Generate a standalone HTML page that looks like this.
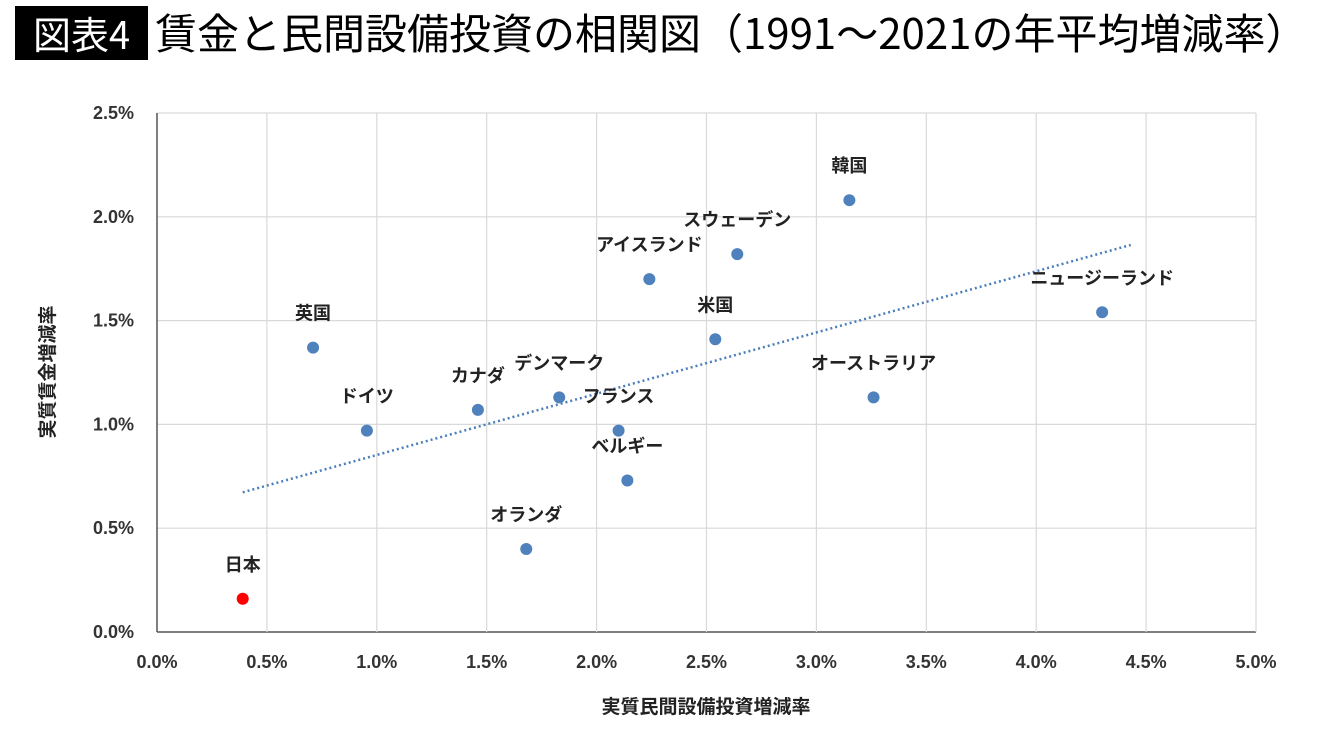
<!DOCTYPE html>
<html><head><meta charset="utf-8"><style>
html,body{margin:0;padding:0;background:#fff;}
body{width:1340px;height:740px;position:relative;overflow:hidden;font-family:"Liberation Sans","Noto Sans CJK JP",sans-serif;}
#badge{position:absolute;left:15px;top:6px;width:133px;height:54px;background:#000;color:#fff;font-size:38px;font-weight:400;line-height:54px;text-align:center;font-family:"Noto Sans CJK JP",sans-serif;}
#title{position:absolute;left:155px;top:3px;font-size:42px;font-weight:400;line-height:58px;color:#000;font-family:"Noto Sans CJK JP",sans-serif;white-space:nowrap;}
svg{position:absolute;left:0;top:0;}
</style></head><body>
<div id="badge">図表4</div>
<div id="title">賃金と民間設備投資の相関図（1991～2021の年平均増減率）</div>
<svg id="chart" width="1340" height="740"></svg>
<script>
const countries=["日本","英国","ドイツ","カナダ","デンマーク","オランダ","フランス","ベルギー","アイスランド","米国","スウェーデン","韓国","オーストラリア","ニュージーランド"];
const investRate=[0.39,0.71,0.955,1.46,1.83,1.68,2.10,2.14,2.24,2.54,2.64,3.15,3.26,4.30];
const wageRate=[0.16,1.37,0.97,1.07,1.13,0.40,0.97,0.73,1.70,1.41,1.82,2.08,1.13,1.54];
const xTicks=[0,0.5,1,1.5,2,2.5,3,3.5,4,4.5,5];
const yTicks=[0,0.5,1,1.5,2,2.5];
const trendRange=[0.39,4.43];

const svg=document.getElementById('chart');
const NS='http://www.w3.org/2000/svg';
const X0=157,X1=1256,Y0=632,Y1=113;
const sx=v=>X0+(v-0)/5*(X1-X0);
const sy=v=>Y0-(v-0)/2.5*(Y0-Y1);
function mk(tag,attrs,text){const e=document.createElementNS(NS,tag);for(const k in attrs)e.setAttribute(k,attrs[k]);if(text!==undefined)e.textContent=text;svg.appendChild(e);return e;}
const F='"Liberation Sans","Noto Sans CJK JP",sans-serif';
yTicks.forEach(t=>{
  const l=mk('line',{x1:X0,x2:X1,y1:sy(t),y2:sy(t),stroke:t===0?'#555':'#d9d9d9','stroke-width':t===0?1.5:1.2});
  
  
  const tx=mk('text',{x:134,y:sy(t)+6,'text-anchor':'end','font-size':18,'font-weight':'bold','font-family':F,fill:'#333'},t.toFixed(1)+'%');
  
  
});
xTicks.forEach(t=>{
  const l=mk('line',{x1:sx(t),x2:sx(t),y1:Y1,y2:Y0,stroke:t===0?'#555':'#d9d9d9','stroke-width':t===0?1.5:1.2});
  
  
  const tx=mk('text',{x:sx(t),y:668,'text-anchor':'middle','font-size':18,'font-weight':'bold','font-family':F,fill:'#333'},t.toFixed(1)+'%');
  
  
});
const n=investRate.length;
const mx=investRate.reduce((a,b)=>a+b,0)/n, my=wageRate.reduce((a,b)=>a+b,0)/n;
let sxy=0,sxx=0;for(let i=0;i<n;i++){sxy+=(investRate[i]-mx)*(wageRate[i]-my);sxx+=(investRate[i]-mx)**2;}
const slope=sxy/sxx, icpt=my-slope*mx;
const tl=mk('line',{x1:sx(trendRange[0]),y1:sy(icpt+slope*trendRange[0]),x2:sx(trendRange[1]),y2:sy(icpt+slope*trendRange[1]),stroke:'#4a7ebb','stroke-width':2.5,'stroke-dasharray':'2 3'});


countries.forEach((c,i)=>{
  const p=mk('circle',{cx:sx(investRate[i]),cy:sy(wageRate[i]),r:6,fill:c==='日本'?'#ff0000':'#4f81bd'});
  
  
  const t=mk('text',{x:sx(investRate[i]),y:sy(wageRate[i])-28,'text-anchor':'middle','font-size':18,'font-weight':'bold','font-family':F,fill:'#222'},c);
  
  
});
const xt=mk('text',{x:706,y:713,'text-anchor':'middle','font-size':19,'font-weight':'bold','font-family':F,fill:'#222'},'実質民間設備投資増減率');


const yt=mk('text',{x:0,y:0,'text-anchor':'middle','font-size':19,'font-weight':'bold','font-family':F,fill:'#222',transform:'translate(54,372) rotate(-90)'},'実質賃金増減率');


</script>
</body></html>
